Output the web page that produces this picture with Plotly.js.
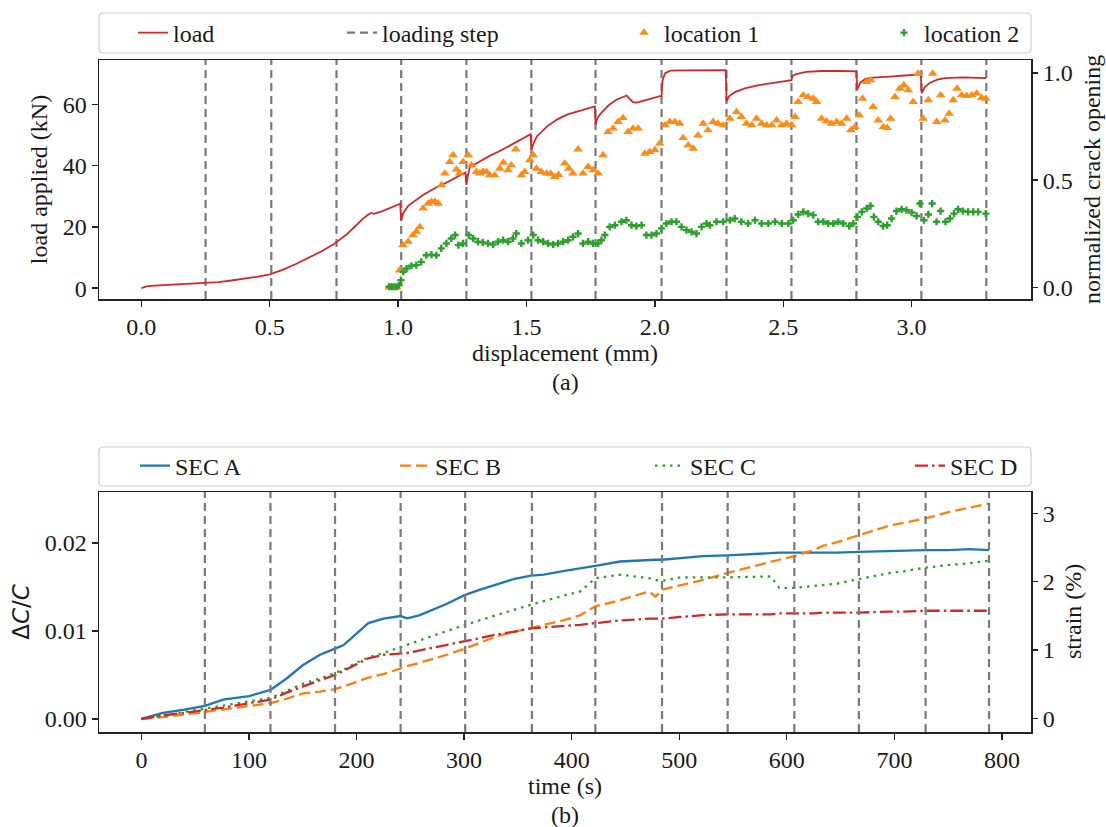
<!DOCTYPE html>
<html>
<head>
<meta charset="utf-8">
<script src="https://cdn.plot.ly/plotly-3.0.1.min.js"></script>
<style>html,body{margin:0;padding:0;background:#fff;}#chart{width:1106px;height:827px;}</style>
</head>
<body>
<div id="chart"></div>
<script>
// ---------------- Panel (a) data ----------------
const loadingStepsDisp = [0.25, 0.506, 0.76, 1.012, 1.266, 1.519, 1.769, 2.026, 2.279, 2.532, 2.785, 3.038, 3.291];

const loadDisp = [0.00, 0.01, 0.02, 0.05, 0.10, 0.15, 0.20, 0.25, 0.30, 0.35, 0.40, 0.45, 0.50, 0.55, 0.60, 0.65, 0.70, 0.75, 0.78, 0.80, 0.83, 0.86, 0.88, 0.895, 0.905, 0.93, 0.96, 1.00, 1.008, 1.012, 1.02, 1.04, 1.06, 1.10, 1.15, 1.20, 1.25, 1.262, 1.266, 1.272, 1.28, 1.32, 1.36, 1.40, 1.45, 1.50, 1.516, 1.519, 1.525, 1.54, 1.58, 1.62, 1.66, 1.70, 1.74, 1.766, 1.769, 1.775, 1.79, 1.82, 1.85, 1.875, 1.89, 1.905, 1.915, 1.93, 1.955, 1.98, 2.02, 2.026, 2.03, 2.04, 2.06, 2.10, 2.20, 2.276, 2.279, 2.29, 2.31, 2.35, 2.40, 2.45, 2.50, 2.532, 2.536, 2.55, 2.59, 2.65, 2.72, 2.785, 2.788, 2.80, 2.82, 2.86, 2.90, 2.95, 3.00, 3.036, 3.039, 3.05, 3.07, 3.10, 3.13, 3.20, 3.25, 3.29];
const loadKN = [0.0, 0.3, 0.6, 0.8, 1.0, 1.2, 1.4, 1.6, 2.0, 2.5, 3.0, 3.7, 4.5, 6.0, 7.8, 9.8, 12.0, 14.4, 16.2, 17.6, 20.0, 22.5, 23.8, 24.6, 24.3, 24.9, 25.9, 27.3, 27.6, 22.2, 24.6, 27.0, 28.2, 30.6, 33.0, 35.0, 37.3, 37.8, 33.8, 37.0, 39.6, 41.6, 43.4, 45.0, 47.3, 49.6, 50.3, 45.3, 46.8, 49.6, 52.9, 55.2, 56.8, 57.8, 58.8, 59.4, 53.4, 55.4, 57.2, 59.8, 61.6, 62.6, 63.0, 61.6, 60.8, 60.7, 61.3, 62.0, 62.8, 62.8, 68.0, 70.3, 71.1, 71.2, 71.3, 71.3, 61.1, 62.8, 64.0, 65.3, 66.3, 67.0, 67.6, 68.0, 69.4, 70.0, 70.7, 71.0, 71.0, 70.9, 64.9, 67.2, 68.4, 68.9, 69.1, 69.3, 69.7, 70.0, 63.8, 65.6, 67.1, 68.2, 68.7, 68.9, 68.8, 68.7];

const loc1Disp = [0.965, 0.975, 0.985, 0.995, 1.006, 1.019, 1.039, 1.058, 1.071, 1.084, 1.097, 1.117, 1.130, 1.143, 1.156, 1.169, 1.182, 1.201, 1.214, 1.227, 1.240, 1.253, 1.273, 1.286, 1.305, 1.318, 1.331, 1.344, 1.357, 1.376, 1.396, 1.410, 1.428, 1.441, 1.458, 1.480, 1.493, 1.513, 1.526, 1.539, 1.558, 1.578, 1.594, 1.610, 1.625, 1.649, 1.665, 1.681, 1.701, 1.720, 1.740, 1.760, 1.779, 1.798, 1.818, 1.837, 1.857, 1.876, 1.896, 1.915, 1.935, 1.961, 1.980, 2.000, 2.019, 2.039, 2.058, 2.078, 2.097, 2.110, 2.130, 2.149, 2.168, 2.188, 2.207, 2.227, 2.246, 2.266, 2.292, 2.318, 2.337, 2.357, 2.377, 2.396, 2.416, 2.435, 2.455, 2.474, 2.494, 2.513, 2.533, 2.546, 2.558, 2.578, 2.597, 2.617, 2.630, 2.649, 2.669, 2.688, 2.708, 2.727, 2.747, 2.763, 2.779, 2.796, 2.809, 2.824, 2.840, 2.850, 2.870, 2.890, 2.905, 2.918, 2.935, 2.954, 2.970, 2.987, 3.006, 3.025, 3.045, 3.065, 3.082, 3.098, 3.113, 3.130, 3.146, 3.162, 3.177, 3.195, 3.214, 3.234, 3.253, 3.273, 3.289];
const loc1Crack = [0.0, 0.0, 0.0, 0.0, 0.08, 0.197, 0.213, 0.244, 0.26, 0.282, 0.368, 0.391, 0.399, 0.399, 0.391, 0.477, 0.531, 0.585, 0.617, 0.55, 0.531, 0.585, 0.617, 0.57, 0.539, 0.531, 0.54, 0.539, 0.523, 0.523, 0.554, 0.582, 0.547, 0.57, 0.644, 0.523, 0.539, 0.593, 0.617, 0.554, 0.539, 0.531, 0.53, 0.515, 0.525, 0.578, 0.554, 0.531, 0.644, 0.531, 0.562, 0.547, 0.531, 0.617, 0.725, 0.741, 0.772, 0.79, 0.725, 0.741, 0.741, 0.624, 0.632, 0.64, 0.671, 0.756, 0.772, 0.772, 0.764, 0.697, 0.663, 0.647, 0.709, 0.764, 0.733, 0.772, 0.764, 0.756, 0.787, 0.818, 0.795, 0.764, 0.756, 0.787, 0.764, 0.756, 0.756, 0.779, 0.756, 0.764, 0.756, 0.795, 0.865, 0.896, 0.888, 0.88, 0.865, 0.787, 0.775, 0.764, 0.772, 0.764, 0.787, 0.733, 0.748, 0.803, 0.88, 0.958, 0.966, 0.842, 0.779, 0.748, 0.744, 0.787, 0.888, 0.927, 0.943, 0.92, 0.865, 0.997, 0.787, 0.873, 0.997, 0.772, 0.896, 0.779, 0.81, 0.873, 0.927, 0.896, 0.893, 0.896, 0.904, 0.884, 0.88];

const loc2Disp = [0.965, 0.974, 0.984, 0.994, 1.003, 1.011, 1.020, 1.033, 1.052, 1.071, 1.090, 1.110, 1.130, 1.149, 1.168, 1.188, 1.207, 1.222, 1.235, 1.253, 1.275, 1.292, 1.311, 1.330, 1.350, 1.370, 1.389, 1.409, 1.428, 1.447, 1.460, 1.480, 1.506, 1.526, 1.545, 1.565, 1.584, 1.604, 1.623, 1.643, 1.662, 1.681, 1.701, 1.720, 1.740, 1.759, 1.779, 1.792, 1.805, 1.824, 1.844, 1.870, 1.889, 1.909, 1.928, 1.948, 1.967, 1.987, 2.006, 2.026, 2.045, 2.065, 2.084, 2.104, 2.123, 2.143, 2.162, 2.182, 2.201, 2.214, 2.240, 2.266, 2.292, 2.311, 2.337, 2.363, 2.390, 2.416, 2.442, 2.468, 2.494, 2.520, 2.539, 2.558, 2.578, 2.597, 2.617, 2.636, 2.656, 2.675, 2.695, 2.714, 2.734, 2.757, 2.773, 2.789, 2.806, 2.825, 2.840, 2.853, 2.870, 2.889, 2.905, 2.922, 2.941, 2.961, 2.980, 3.000, 3.019, 3.032, 3.048, 3.065, 3.080, 3.097, 3.113, 3.132, 3.149, 3.165, 3.181, 3.200, 3.220, 3.240, 3.259, 3.289];
const loc2Crack = [0.003, 0.003, 0.003, 0.003, 0.01, 0.034, 0.073, 0.088, 0.101, 0.104, 0.119, 0.15, 0.153, 0.15, 0.182, 0.205, 0.228, 0.244, 0.197, 0.205, 0.244, 0.228, 0.213, 0.21, 0.205, 0.2, 0.213, 0.22, 0.213, 0.228, 0.251, 0.205, 0.22, 0.244, 0.22, 0.213, 0.205, 0.2, 0.205, 0.213, 0.22, 0.236, 0.251, 0.205, 0.213, 0.205, 0.205, 0.22, 0.244, 0.282, 0.29, 0.306, 0.313, 0.29, 0.286, 0.29, 0.244, 0.244, 0.251, 0.275, 0.298, 0.306, 0.306, 0.282, 0.267, 0.259, 0.251, 0.282, 0.298, 0.29, 0.306, 0.306, 0.313, 0.321, 0.306, 0.298, 0.313, 0.298, 0.298, 0.306, 0.298, 0.298, 0.313, 0.34, 0.352, 0.344, 0.337, 0.306, 0.306, 0.298, 0.298, 0.306, 0.298, 0.286, 0.298, 0.329, 0.352, 0.368, 0.38, 0.329, 0.306, 0.286, 0.29, 0.321, 0.356, 0.364, 0.36, 0.349, 0.333, 0.391, 0.313, 0.34, 0.391, 0.306, 0.356, 0.306, 0.321, 0.344, 0.364, 0.356, 0.352, 0.352, 0.352, 0.344];

// ---------------- Panel (b) data ----------------
const loadingStepsTime = [59, 120, 180, 241, 301, 363, 422, 484, 545, 607, 667, 729, 788];
const timeS = [0, 20, 40, 59, 76, 91, 100, 120, 135, 150, 166, 180, 188, 200, 211, 225, 241, 247, 259, 284, 301, 315, 330, 346, 362, 374, 392, 408, 422, 445, 472, 478, 484, 501, 522, 545, 585, 593, 607, 625, 634, 647, 667, 696, 709, 729, 750, 770, 788];
const secA = [0, 0.0007, 0.00105, 0.0015, 0.0022, 0.0025, 0.0026, 0.0033, 0.0046, 0.0061, 0.0073, 0.0080, 0.0084, 0.0097, 0.0109, 0.0114, 0.0117, 0.01145, 0.0118, 0.0131, 0.0141, 0.0147, 0.0153, 0.0159, 0.0163, 0.0164, 0.0168, 0.0171, 0.0174, 0.0179, 0.0181, 0.0181, 0.0181, 0.0183, 0.0185, 0.0186, 0.0189, 0.0189, 0.0189, 0.0189, 0.0189, 0.0189, 0.0190, 0.0191, 0.0192, 0.0192, 0.0192, 0.0193, 0.0192];
const secB = [0, 0.0002, 0.0005, 0.0008, 0.0011, 0.0013, 0.0015, 0.0018, 0.0023, 0.0029, 0.0031, 0.0034, 0.0037, 0.0042, 0.0047, 0.0051, 0.0058, 0.0060, 0.0064, 0.0073, 0.0080, 0.0087, 0.0094, 0.0099, 0.0103, 0.0107, 0.0112, 0.0118, 0.0128, 0.0135, 0.0145, 0.0139, 0.0147, 0.0152, 0.0158, 0.0166, 0.0179, 0.0181, 0.0185, 0.0192, 0.0197, 0.0201, 0.0209, 0.0220, 0.0223, 0.0228, 0.0235, 0.0240, 0.0245];
const secC = [0, 0.0004, 0.0008, 0.0012, 0.0015, 0.0018, 0.0020, 0.0024, 0.0032, 0.0040, 0.0046, 0.0052, 0.0056, 0.0064, 0.0070, 0.0075, 0.0082, 0.0084, 0.0089, 0.0100, 0.0107, 0.0112, 0.0118, 0.0124, 0.0130, 0.0134, 0.0140, 0.0145, 0.0160, 0.0164, 0.0160, 0.0158, 0.0157, 0.0161, 0.0161, 0.0161, 0.0162, 0.0149, 0.0149, 0.0151, 0.0152, 0.0154, 0.0159, 0.0166, 0.0168, 0.0172, 0.0175, 0.0177, 0.0180];
const secD = [0, 0.0004, 0.0007, 0.0010, 0.0013, 0.0016, 0.0018, 0.0022, 0.0030, 0.0037, 0.0044, 0.0050, 0.0055, 0.0062, 0.0069, 0.0073, 0.0075, 0.0075, 0.0078, 0.0084, 0.0088, 0.0092, 0.0096, 0.0099, 0.0103, 0.0104, 0.0106, 0.0107, 0.0109, 0.0112, 0.0114, 0.0114, 0.0114, 0.0116, 0.0118, 0.0119, 0.0119, 0.0120, 0.0120, 0.0120, 0.0121, 0.0121, 0.0121, 0.0122, 0.0122, 0.0123, 0.0123, 0.0123, 0.0123];

// ---------------- tick labels ----------------
const dispTicks = [0, 0.5, 1.0, 1.5, 2.0, 2.5, 3.0];
const loadTicks = [0, 20, 40, 60];
const crackTicks = [0, 0.5, 1.0];
const timeTicks = [0, 100, 200, 300, 400, 500, 600, 700, 800];
const dccTicks = [0, 0.01, 0.02];
const strainTicks = [0, 1, 2, 3];

// ---------------- geometry helpers ----------------
const W = 1106, H = 827, PL = 99, PR = 1031;
const px = x => (x - PL) / (PR - PL);
const py = y => 1 - y / H;
const FONT = '"Liberation Serif", "Times New Roman", serif';
const FS = 24;
const TXT = '#1a1a1a';
const AX = '#222222';

const xRangeA = [-0.165, 3.465], yRangeA = [-3.55, 74.6], y2RangeA = [-0.054, 1.06];
const xRangeB = [-39.4, 827], yRangeB = [-0.00148, 0.0258], y2RangeB = [-0.2, 3.31];

function vlines(vals, yr) {
  const xs = [], ys = [];
  vals.forEach(v => { xs.push(v, v, null); ys.push(yr[0], yr[1], null); });
  return {xs, ys};
}
const vA = vlines(loadingStepsDisp, yRangeA);
const vB = vlines(loadingStepsTime, y2RangeB);

const stepLine = {color: '#7a7a7a', width: 2.2, dash: '8px,5px'};

const traces = [
  {x: vA.xs, y: vA.ys, xaxis: 'x', yaxis: 'y', mode: 'lines', line: stepLine, name: 'loading step', legend: 'legend2', hoverinfo: 'skip'},
  {x: loadDisp, y: loadKN, xaxis: 'x', yaxis: 'y', mode: 'lines', line: {color: '#d62728', width: 1.8}, name: 'load', legend: 'legend'},
  {x: loc1Disp, y: loc1Crack, xaxis: 'x', yaxis: 'y2', mode: 'markers', marker: {symbol: 'triangle-up', size: 8.5, color: '#ff8c1a'}, name: 'location 1', legend: 'legend3'},
  {x: loc2Disp, y: loc2Crack, xaxis: 'x', yaxis: 'y2', mode: 'markers', marker: {symbol: 'cross', size: 6, color: '#2ca02c'}, name: 'location 2', legend: 'legend4'},
  {x: vB.xs, y: vB.ys, xaxis: 'x2', yaxis: 'y4', mode: 'lines', line: stepLine, showlegend: false, hoverinfo: 'skip'},
  {x: timeS, y: secA, xaxis: 'x2', yaxis: 'y3', mode: 'lines', line: {color: '#1f77b4', width: 2.3}, name: 'SEC A', legend: 'legend5'},
  {x: timeS, y: secB, xaxis: 'x2', yaxis: 'y3', mode: 'lines', line: {color: '#ff7f0e', width: 2.3, dash: '11px,5px'}, name: 'SEC B', legend: 'legend6'},
  {x: timeS, y: secC, xaxis: 'x2', yaxis: 'y3', mode: 'lines', line: {color: '#2ca02c', width: 2.3, dash: '2.5px,5px'}, name: 'SEC C', legend: 'legend7'},
  {x: timeS, y: secD, xaxis: 'x2', yaxis: 'y3', mode: 'lines', line: {color: '#d62728', width: 2.3, dash: '13px,4px,2.5px,4px'}, name: 'SEC D', legend: 'legend8'}
];

function axisBase(extra) {
  return Object.assign({
    ticks: 'outside', ticklen: 6, tickwidth: 1.3, tickcolor: AX,
    showline: true, linecolor: AX, linewidth: 1.5,
    showgrid: false, zeroline: false,
    tickfont: {family: FONT, size: FS, color: TXT}
  }, extra);
}

function legendAt(textX, textY) {
  return {x: px(textX - 42), xanchor: 'left', y: py(textY), yanchor: 'middle', orientation: 'h',
    bgcolor: 'rgba(0,0,0,0)', borderwidth: 0, font: {family: FONT, size: FS, color: TXT}};
}

function roundRect(x0, y0, x1, y1, r) {
  const X = v => px(v).toFixed(5), Y = v => py(v).toFixed(5);
  return 'M' + X(x0 + r) + ',' + Y(y0) + ' L' + X(x1 - r) + ',' + Y(y0) +
    ' Q' + X(x1) + ',' + Y(y0) + ' ' + X(x1) + ',' + Y(y0 + r) +
    ' L' + X(x1) + ',' + Y(y1 - r) +
    ' Q' + X(x1) + ',' + Y(y1) + ' ' + X(x1 - r) + ',' + Y(y1) +
    ' L' + X(x0 + r) + ',' + Y(y1) +
    ' Q' + X(x0) + ',' + Y(y1) + ' ' + X(x0) + ',' + Y(y1 - r) +
    ' L' + X(x0) + ',' + Y(y0 + r) +
    ' Q' + X(x0) + ',' + Y(y0) + ' ' + X(x0 + r) + ',' + Y(y0) + ' Z';
}

const layout = {
  width: W, height: H,
  margin: {l: PL, r: W - PR, t: 0, b: 0, pad: 0},
  paper_bgcolor: '#ffffff', plot_bgcolor: '#ffffff',
  font: {family: FONT, size: FS, color: TXT},
  showlegend: true,
  xaxis: axisBase({domain: [0, 1], anchor: 'y', range: xRangeA, tickvals: dispTicks, tickformat: '.1f', mirror: true,
    title: {text: 'displacement (mm)', font: {family: FONT, size: FS, color: TXT}, standoff: 4}}),
  yaxis: axisBase({domain: [py(299), py(60)], anchor: 'x', range: yRangeA, tickvals: loadTicks, mirror: true,
    title: {text: 'load applied (kN)', font: {family: FONT, size: FS, color: TXT}, standoff: 8}}),
  yaxis2: axisBase({overlaying: 'y', side: 'right', anchor: 'x', range: y2RangeA, tickvals: crackTicks, tickformat: '.1f', showline: false}),
  xaxis2: axisBase({domain: [0, 1], anchor: 'y3', range: xRangeB, tickvals: timeTicks, mirror: true,
    title: {text: 'time (s)', font: {family: FONT, size: FS, color: TXT}, standoff: 4}}),
  yaxis3: axisBase({domain: [py(732), py(492)], anchor: 'x2', range: yRangeB, tickvals: dccTicks, tickformat: '.2f', mirror: true,
    title: {text: 'Δ<i>C</i>/<i>C</i>', font: {family: '"DejaVu Sans", sans-serif', size: 23, color: TXT}, standoff: 8}}),
  yaxis4: axisBase({overlaying: 'y3', side: 'right', anchor: 'x2', range: y2RangeB, tickvals: strainTicks, showline: false}),
  legend: legendAt(175, 33),
  legend2: legendAt(384, 33),
  legend3: legendAt(666, 33),
  legend4: legendAt(926, 33),
  legend5: legendAt(177, 466),
  legend6: legendAt(437, 466),
  legend7: legendAt(692, 466),
  legend8: legendAt(952, 466),
  shapes: [
    {type: 'path', xref: 'paper', yref: 'paper', path: roundRect(99, 13, 1031, 53, 4), line: {color: '#cfcfcf', width: 1.2}, fillcolor: '#ffffff', layer: 'below'},
    {type: 'path', xref: 'paper', yref: 'paper', path: roundRect(99, 447, 1031, 486, 4), line: {color: '#cfcfcf', width: 1.2}, fillcolor: '#ffffff', layer: 'below'}
  ],
  annotations: [
    {text: '(a)', xref: 'paper', yref: 'paper', x: 0.5, y: py(382), xanchor: 'center', yanchor: 'middle', showarrow: false, font: {family: FONT, size: FS, color: TXT}},
    {text: '(b)', xref: 'paper', yref: 'paper', x: 0.5, y: py(815), xanchor: 'center', yanchor: 'middle', showarrow: false, font: {family: FONT, size: FS, color: TXT}},
    {text: 'normalized crack opening', xref: 'paper', yref: 'paper', x: px(1092), y: py(180), xanchor: 'center', yanchor: 'middle', textangle: -90, showarrow: false, font: {family: FONT, size: FS, color: TXT}},
    {text: 'strain (%)', xref: 'paper', yref: 'paper', x: px(1073), y: py(612), xanchor: 'center', yanchor: 'middle', textangle: -90, showarrow: false, font: {family: FONT, size: FS, color: TXT}}
  ]
};

Plotly.newPlot('chart', traces, layout, {staticPlot: true, displayModeBar: false});
</script>
</body>
</html>
